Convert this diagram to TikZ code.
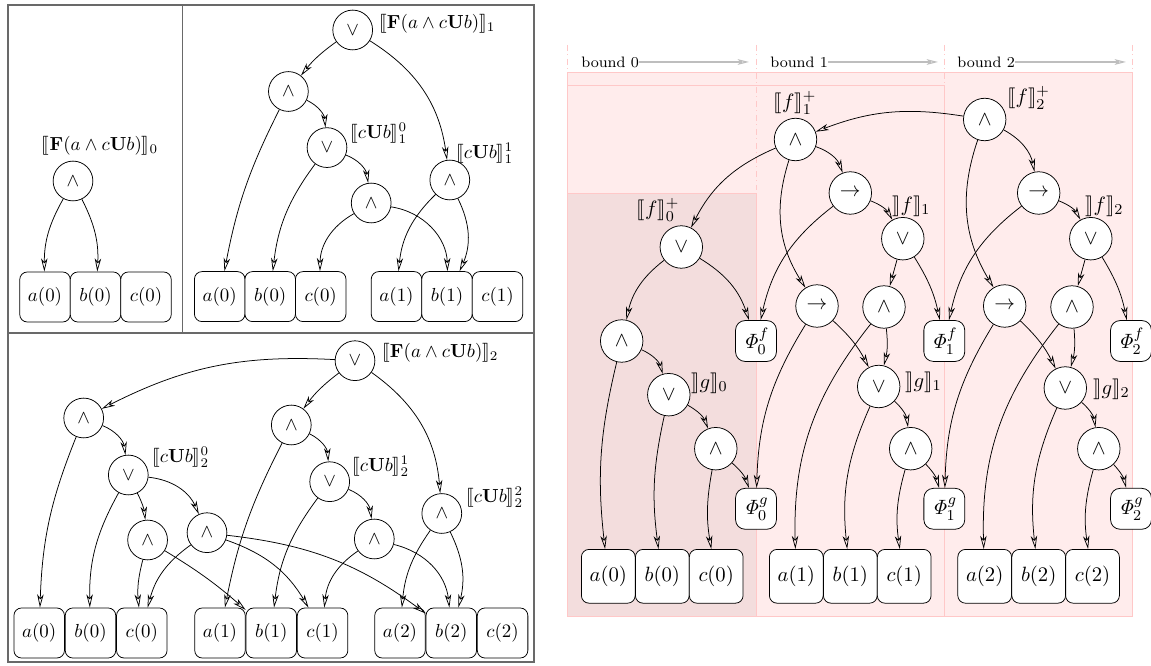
\documentclass[tikz,border=0pt]{standalone}
\usepackage{amsmath}
\usepackage{stmaryrd}
\usepackage{xcolor}
\usepackage{tikz}
\usetikzlibrary{arrows.meta, positioning, calc}
\definecolor{framegray}{RGB}{105,105,105}
\definecolor{boundbg}{RGB}{255,236,236}
\definecolor{boundbgdark}{RGB}{243,221,221}
\definecolor{boundline}{RGB}{255,200,200}
\definecolor{boundarrow}{RGB}{190,190,190}

\begin{document}
\begin{tikzpicture}[
          x=0.0186cm, y=-0.0186cm,
          op/.style={draw, circle, fill=white, minimum size=0.74cm, inner sep=0pt},
          opr/.style={op, minimum size=0.79cm, font=\fontsize{11}{13}\selectfont},
          var/.style={draw, rounded corners=4pt, fill=white, minimum width=0.94cm,
                      minimum height=0.93cm, inner sep=0pt},
          varr/.style={var, minimum width=1.0cm, minimum height=1.0cm, font=\fontsize{11}{13}\selectfont},
          phi/.style={var, minimum width=0.76cm, minimum height=0.76cm, rounded corners=5pt,
                      font=\fontsize{11}{13}\selectfont},
          lbl/.style={inner sep=0pt},
          lblr/.style={inner sep=0pt, font=\fontsize{11}{13}\selectfont},
          arr/.style={-{Stealth[open, length=7pt, width=3.4pt, inset=2pt]}, thin},
          bound/.style={inner sep=0pt, font=\footnotesize},
          boundarr/.style={-{Stealth[open, length=6pt, width=3pt, inset=1.5pt]}, color=boundarrow, semithick},
        ]
        \useasboundingbox (0,0) rectangle (1151,666);

        % frames of the unrolled formulas
        \draw[framegray, line width=0.6pt] (8,5) rectangle (534,662);
        \draw[framegray, line width=0.6pt] (8,333) -- (534,333);
        \draw[framegray, line width=0.6pt] (182.7,5) -- (182.7,333);

        % bound 0
        \node[op] (tl-and) at (73,181) {$\wedge$};
        \node[lbl] (tl-lbl) at (100,146) {$\llbracket \mathbf{F}(a \wedge c\mathbf{U}b) \rrbracket_0$};
        \node[var] (tl-a0) at (45,297) {$a(0)$};
        \node[var] (tl-b0) at (95.5,297) {$b(0)$};
        \node[var] (tl-c0) at (146,297) {$c(0)$};
        \draw[arr] (tl-and) to[bend right=15] (tl-a0);
        \draw[arr] (tl-and) to[bend left=15] (tl-b0);

        % bound 1
        \node[op] (tm-or) at (352.7,30) {$\vee$};
        \node[lbl, anchor=west] (tm-lbl) at (379,24) {$\llbracket \mathbf{F}(a \wedge c\mathbf{U}b) \rrbracket_1$};
        \node[op] (tm-and) at (288.4,91.5) {$\wedge$};
        \node[op] (tm-u0) at (327,147.6) {$\vee$};
        \node[lbl, anchor=west] (tm-u0lbl) at (350,133) {$\llbracket c\mathbf{U}b \rrbracket^0_1$};
        \node[op] (tm-u0and) at (371.2,203) {$\wedge$};
        \node[op] (tm-u1) at (449.8,180) {$\wedge$};
        \node[lbl, anchor=west] (tm-u1lbl) at (456,153) {$\llbracket c\mathbf{U}b \rrbracket^1_1$};
        \node[var] (tm-a0) at (219.7,296.6) {$a(0)$};
        \node[var] (tm-b0) at (270.2,296.6) {$b(0)$};
        \node[var] (tm-c0) at (320.7,296.6) {$c(0)$};
        \node[var] (tm-a1) at (396.5,296.6) {$a(1)$};
        \node[var] (tm-b1) at (447,296.6) {$b(1)$};
        \node[var] (tm-c1) at (497.5,296.6) {$c(1)$};
        \draw[arr] (tm-or) to[bend right=8] (tm-and);
        \draw[arr] (tm-or) to[bend left=25] (tm-u1);
        \draw[arr] (tm-and) to[bend left=30] (tm-u0);
        \draw[arr] (tm-and) to[bend right=8] (tm-a0);
        \draw[arr] (tm-u0) to[bend right=15] (tm-b0);
        \draw[arr] (tm-u0) to[bend left=30] (tm-u0and);
        \draw[arr] (tm-u0and) to[bend right=30] (tm-c0);
        \draw[arr] (tm-u0and) to[bend left=40] (tm-b1);
        \draw[arr] (tm-u1) to[bend right=20] (tm-a1);
        \draw[arr] (tm-u1) to[bend left=25] (tm-b1);

        % bound 2
        \node[op] (bt-or) at (355,360.7) {$\vee$};
        \node[lbl, anchor=west] (bt-lbl) at (382,353) {$\llbracket \mathbf{F}(a \wedge c\mathbf{U}b) \rrbracket_2$};
        \node[op] (bt-and0) at (83.7,418) {$\wedge$};
        \node[op] (bt-u0) at (128.3,475) {$\vee$};
        \node[lbl, anchor=west] (bt-u0lbl) at (152,457) {$\llbracket c\mathbf{U}b \rrbracket^0_2$};
        \node[op] (bt-u0a) at (147.6,540) {$\wedge$};
        \node[op] (bt-u0b) at (207,532.7) {$\wedge$};
        \node[op] (bt-and1) at (291.3,425) {$\wedge$};
        \node[op] (bt-u1) at (329.7,481.7) {$\vee$};
        \node[lbl, anchor=west] (bt-u1lbl) at (352,466) {$\llbracket c\mathbf{U}b \rrbracket^1_2$};
        \node[op] (bt-u1a) at (374.3,539) {$\wedge$};
        \node[op] (bt-u2) at (441.8,513.5) {$\wedge$};
        \node[lbl, anchor=west] (bt-u2lbl) at (466,497) {$\llbracket c\mathbf{U}b \rrbracket^2_2$};
        \node[var] (bt-a0) at (39.2,633) {$a(0)$};
        \node[var] (bt-b0) at (90.5,633) {$b(0)$};
        \node[var] (bt-c0) at (141.8,633) {$c(0)$};
        \node[var] (bt-a1) at (220,633) {$a(1)$};
        \node[var] (bt-b1) at (271.3,633) {$b(1)$};
        \node[var] (bt-c1) at (322.6,633) {$c(1)$};
        \node[var] (bt-a2) at (400,633) {$a(2)$};
        \node[var] (bt-b2) at (451.3,633) {$b(2)$};
        \node[var] (bt-c2) at (502.6,633) {$c(2)$};
        \draw[arr] (bt-or) to[bend right=15] (bt-and0);
        \draw[arr] (bt-or) to[bend right=8] (bt-and1);
        \draw[arr] (bt-or) to[bend left=25] (bt-u2);
        \draw[arr] (bt-and0) to[bend right=10] (bt-a0);
        \draw[arr] (bt-and0) to[bend left=30] (bt-u0);
        \draw[arr] (bt-u0) to[bend right=15] (bt-b0);
        \draw[arr] (bt-u0) to[bend left=10] (bt-u0a);
        \draw[arr] (bt-u0) to[bend left=30] (bt-u0b);
        \draw[arr] (bt-u0a) to[bend right=10] (bt-c0);
        \draw[arr] (bt-u0a) to[bend left=5] (bt-b1);
        \draw[arr] (bt-u0b) to[bend right=20] (bt-c0);
        \draw[arr] (bt-u0b) to[bend left=20] (bt-c1);
        \draw[arr] (bt-u0b) to[bend left=15] (bt-b2);
        \draw[arr] (bt-and1) to[bend right=8] (bt-a1);
        \draw[arr] (bt-and1) to[bend left=30] (bt-u1);
        \draw[arr] (bt-u1) to[bend right=15] (bt-b1);
        \draw[arr] (bt-u1) to[bend left=30] (bt-u1a);
        \draw[arr] (bt-u1a) to[bend right=25] (bt-c1);
        \draw[arr] (bt-u1a) to[bend left=35] (bt-b2);
        \draw[arr] (bt-u2) to[bend right=15] (bt-a2);
        \draw[arr] (bt-u2) to[bend left=20] (bt-b2);

        % incremental encoding, shaded per bound
        \fill[boundbg, draw=boundline] (567.3,72.3) rectangle (1132.7,616);
        \fill[boundbg, draw=boundline] (567.3,85.7) rectangle (944.7,616);
        \fill[boundbgdark, draw=boundline] (567.3,193.3) rectangle (756.7,616);
        \foreach \bx in {567.3, 756.7, 944.7, 1132.7}
          \draw[boundline, dash dot] (\bx,45) -- (\bx,616);

        \node[bound, anchor=west] (bl0) at (581,62) {bound 0};
        \node[bound, anchor=west] (bl1) at (770,62) {bound 1};
        \node[bound, anchor=west] (bl2) at (957,62) {bound 2};
        \coordinate (be0) at (749,62);
        \coordinate (be1) at (938,62);
        \coordinate (be2) at (1126,62);
        \draw[boundarr] (bl0.east) -- (be0);
        \draw[boundarr] (bl1.east) -- (be1);
        \draw[boundarr] (bl2.east) -- (be2);

        \node[opr] (f0) at (681.3,247) {$\vee$};
        \node[lblr] (f0lbl) at (658,210) {$\llbracket f\rrbracket^+_0$};
        \node[opr] (f1) at (795.5,139.5) {$\wedge$};
        \node[lblr] (f1lbl) at (795,103) {$\llbracket f\rrbracket^+_1$};
        \node[opr] (f2) at (984.7,119.5) {$\wedge$};
        \node[lblr, anchor=west] (f2lbl) at (1007,98) {$\llbracket f\rrbracket^+_2$};
        \node[opr] (imp1) at (850.3,193) {$\rightarrow$};
        \node[opr] (imp2) at (1038.7,193) {$\rightarrow$};
        \node[opr] (or1) at (902.8,238.7) {$\vee$};
        \node[lblr, anchor=west] (or1lbl) at (892,206) {$\rrbracket f\rrbracket_1$};
        \node[opr] (or2) at (1090.8,238.7) {$\vee$};
        \node[lblr, anchor=west] (or2lbl) at (1085,206) {$\rrbracket f\rrbracket_2$};
        \node[opr] (imp1b) at (817,306) {$\rightarrow$};
        \node[opr] (imp2b) at (1004.7,306) {$\rightarrow$};
        \node[opr] (and1b) at (884,307) {$\wedge$};
        \node[opr] (and2b) at (1072,307) {$\wedge$};
        \node[opr] (and0) at (621.7,341) {$\wedge$};
        \node[phi] (phif0) at (756,341) {$\mathit{\Phi}^f_0$};
        \node[phi] (phif1) at (944.3,341) {$\mathit{\Phi}^f_1$};
        \node[phi] (phif2) at (1131,341) {$\mathit{\Phi}^f_2$};
        \node[opr] (g0) at (668.8,394.7) {$\vee$};
        \node[lblr, anchor=west] (g0lbl) at (691,383) {$\rrbracket g\rrbracket_0$};
        \node[opr] (g1) at (878.7,386.5) {$\vee$};
        \node[lblr, anchor=west] (g1lbl) at (905,382) {$\rrbracket g\rrbracket_1$};
        \node[opr] (g2) at (1065.3,388) {$\vee$};
        \node[lblr, anchor=west] (g2lbl) at (1093,389) {$\rrbracket g\rrbracket_2$};
        \node[opr] (gand0) at (715.8,448.7) {$\wedge$};
        \node[opr] (gand1) at (910.7,448.7) {$\wedge$};
        \node[opr] (gand2) at (1098.8,448.7) {$\wedge$};
        \node[phi] (phig0) at (756,508.8) {$\mathit{\Phi}^g_0$};
        \node[phi] (phig1) at (944.3,508.8) {$\mathit{\Phi}^g_1$};
        \node[phi] (phig2) at (1131,508.8) {$\mathit{\Phi}^g_2$};
        \node[varr] (a0) at (608.3,576.3) {$a(0)$};
        \node[varr] (b0) at (662.3,576.3) {$b(0)$};
        \node[varr] (c0) at (716.2,576.3) {$c(0)$};
        \node[varr] (a1) at (796.3,576.3) {$a(1)$};
        \node[varr] (b1) at (850.3,576.3) {$b(1)$};
        \node[varr] (c1) at (904.2,576.3) {$c(1)$};
        \node[varr] (a2) at (984.7,576.3) {$a(2)$};
        \node[varr] (b2) at (1038.7,576.3) {$b(2)$};
        \node[varr] (c2) at (1092.5,576.3) {$c(2)$};

        \draw[arr] (f2) to[bend right=15] (f1);
        \draw[arr] (f2) to[bend left=25] (imp2);
        \draw[arr] (f2) to[bend right=25] (imp2b);
        \draw[arr] (f1) to[bend right=20] (f0);
        \draw[arr] (f1) to[bend left=25] (imp1);
        \draw[arr] (f1) to[bend right=25] (imp1b);
        \draw[arr] (f0) to[bend right=20] (and0);
        \draw[arr] (f0) to[bend left=20] (phif0);
        \draw[arr] (imp1) to[bend left=20] (or1);
        \draw[arr] (imp1) to[bend right=20] (phif0);
        \draw[arr] (imp2) to[bend left=20] (or2);
        \draw[arr] (imp2) to[bend right=20] (phif1);
        \draw[arr] (or1) -- (and1b);
        \draw[arr] (or1) to[bend left=10] (phif1);
        \draw[arr] (or2) -- (and2b);
        \draw[arr] (or2) to[bend left=10] (phif2);
        \draw[arr] (imp1b) to[bend left=10] (g1);
        \draw[arr] (imp1b) to[bend right=15] (phig0);
        \draw[arr] (imp2b) to[bend left=10] (g2);
        \draw[arr] (imp2b) to[bend right=15] (phig1);
        \draw[arr] (and1b) to[bend left=10] (g1);
        \draw[arr] (and1b) to[bend right=20] (a1);
        \draw[arr] (and2b) to[bend left=10] (g2);
        \draw[arr] (and2b) to[bend right=20] (a2);
        \draw[arr] (and0) to[bend left=25] (g0);
        \draw[arr] (and0) to[bend right=10] (a0);
        \draw[arr] (g0) to[bend left=20] (gand0);
        \draw[arr] (g0) to[bend right=10] (b0);
        \draw[arr] (g1) to[bend left=20] (gand1);
        \draw[arr] (g1) to[bend right=15] (b1);
        \draw[arr] (g2) to[bend left=20] (gand2);
        \draw[arr] (g2) to[bend right=15] (b2);
        \draw[arr] (gand0) to[bend left=15] (phig0);
        \draw[arr] (gand0) to[bend right=10] (c0);
        \draw[arr] (gand1) to[bend left=15] (phig1);
        \draw[arr] (gand1) to[bend right=12] (c1);
        \draw[arr] (gand2) to[bend left=15] (phig2);
        \draw[arr] (gand2) to[bend right=12] (c2);
      \end{tikzpicture}
\end{document}
